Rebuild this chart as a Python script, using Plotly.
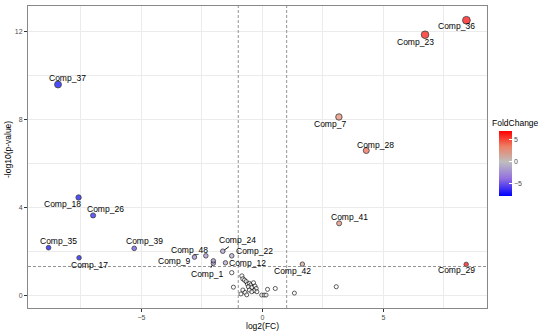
import plotly.graph_objects as go

# ---- data ----
sig_names = ["Comp_37", "Comp_36", "Comp_23", "Comp_7", "Comp_28", "Comp_41", "Comp_42",
             "Comp_29", "Comp_18", "Comp_26", "Comp_35", "Comp_17", "Comp_39", "Comp_48",
             "Comp_9", "Comp_24", "Comp_22", "Comp_12", "Comp_1", ""]
sig_log2fc = [-8.45, 8.43, 6.72, 3.16, 4.29, 3.17, 1.65,
              8.42, -7.60, -7.00, -8.84, -7.58, -5.30, -2.34,
              -2.81, -1.64, -1.27, -1.53, -2.03, -2.03]
sig_logp = [9.60, 12.53, 11.87, 8.12, 6.59, 3.27, 1.41,
            1.40, 4.45, 3.63, 2.16, 1.70, 2.13, 1.79,
            1.73, 2.00, 1.79, 1.47, 1.45, 1.56]

ns_log2fc = [-1.27, -1.20, -0.85, -0.81, -0.74, -0.67, -0.62, -0.54, -0.48, -0.58, -0.44,
             -0.37, -0.31, -0.26, -0.34, -0.23, -0.81, -0.72, -0.89, -0.65, -0.54, -0.44,
             -0.03, 0.07, 0.15, 0.21, 0.53, 1.32, 3.05]
ns_logp = [1.02, 0.36, 0.87, 0.74, 0.68, 0.61, 0.50, 0.53, 0.46, 0.38, 0.35,
           0.56, 0.41, 0.30, 0.20, 0.15, 0.23, 0.12, 0.05, 0.01, 0.23, 0.15,
           0.00, 0.00, 0.00, 0.26, 0.30, 0.09, 0.38]

fc_cut = 1.0
p_cut = 1.301
x_ticks = [-5, 0, 5]
y_ticks = [0, 4, 8, 12]
cb_ticks = [-5, 0, 5]
cmin, cmax = -7.8, 7.05

# ---- style ----
m = (0 - cmin) / (cmax - cmin)
colorscale = [[0, "#0000FF"], [m / 2, "#926EE1"], [m, "#BEBEBE"],
              [m + (1 - m) / 2, "#ED7F64"], [1, "#FF0000"]]

def msize(v):
    return 4 + 0.3 * v

label_offsets = {
    "Comp_37": (9, 7), "Comp_36": (-10, -6), "Comp_23": (-10, -7), "Comp_7": (-9, -7),
    "Comp_28": (9, 6), "Comp_41": (10, 6), "Comp_42": (-10, -7), "Comp_29": (-10, -6),
    "Comp_18": (-16, -7), "Comp_26": (12, 6), "Comp_35": (10, 7), "Comp_17": (10, -7),
    "Comp_39": (10, 7), "Comp_48": (-16, 6), "Comp_9": (-20, -4), "Comp_22": (23, 5),
    "Comp_12": (22, 0),
}
arrow_offsets = {"Comp_24": (15, -11), "Comp_1": (-6, 11)}

FONT = "Liberation Sans, Arial, sans-serif"
W, H = 550, 334
ML, MR, MT, MB = 28, 63, 6, 26
PW, PH = W - ML - MR, H - MT - MB

fig = go.Figure()

fig.add_trace(go.Scatter(
    x=ns_log2fc, y=ns_logp, mode="markers", showlegend=False, hoverinfo="skip",
    marker=dict(size=[msize(v) for v in ns_logp], color="white",
                line=dict(color="black", width=0.9)),
))

fig.add_trace(go.Scatter(
    x=sig_log2fc, y=sig_logp, mode="markers", showlegend=False, text=sig_names,
    marker=dict(size=[msize(v) for v in sig_logp], color=sig_log2fc,
                colorscale=colorscale, cmin=cmin, cmax=cmax,
                line=dict(color="black", width=0.9),
                colorbar=dict(
                    x=(499.3 - ML) / PW, xref="paper", xanchor="left",
                    y=(H - MB - 163.4) / PH, yanchor="middle",
                    thickness=13, thicknessmode="pixels", len=65, lenmode="pixels",
                    xpad=0, ypad=0, outlinewidth=0,
                    tickvals=cb_ticks, ticks="inside", tickcolor="white", ticklen=3,
                    tickfont=dict(size=7, color="#4d4d4d", family=FONT),
                )),
))

shapes = []
for xv in (-fc_cut, fc_cut):
    shapes.append(dict(type="line", xref="x", yref="y domain", x0=xv, x1=xv, y0=0, y1=1,
                       line=dict(color="#666666", width=0.7, dash="3px,2px")))
shapes.append(dict(type="line", xref="x domain", yref="y", x0=0, x1=1, y0=p_cut, y1=p_cut,
                   line=dict(color="#666666", width=0.7, dash="3px,2px")))

annotations = []
for name, xv, yv in zip(sig_names, sig_log2fc, sig_logp):
    if name in label_offsets:
        dx, dy = label_offsets[name]
        annotations.append(dict(x=xv, y=yv, text=name, showarrow=False, xshift=dx, yshift=dy,
                                font=dict(size=8.5, color="black", family=FONT)))
    elif name in arrow_offsets:
        ax, ay = arrow_offsets[name]
        annotations.append(dict(x=xv, y=yv, text=name, showarrow=True, ax=ax, ay=ay,
                                arrowhead=0, arrowwidth=0.9, arrowcolor="black", standoff=2,
                                font=dict(size=8.5, color="black", family=FONT)))

# colorbar title
annotations.append(dict(xref="paper", yref="paper", x=(490 - ML) / PW, y=(H - MB - 122.7) / PH,
                        xanchor="left", yanchor="middle", text="FoldChange", showarrow=False,
                        font=dict(size=8.5, color="black", family=FONT)))
# axis titles
annotations.append(dict(xref="paper", yref="paper", x=(262 - ML) / PW, y=(H - MB - 325.5) / PH,
                        xanchor="center", yanchor="middle", text="log2(FC)", showarrow=False,
                        font=dict(size=8.5, color="black", family=FONT)))
annotations.append(dict(xref="paper", yref="paper", x=(8 - ML) / PW, y=(H - MB - 150) / PH,
                        xanchor="center", yanchor="middle", text="-log10(p-value)", showarrow=False,
                        textangle=-90, font=dict(size=8.5, color="black", family=FONT)))

fig.update_layout(
    width=W, height=H,
    margin=dict(l=ML, r=MR, t=MT, b=MB),
    paper_bgcolor="white", plot_bgcolor="white",
    font=dict(family=FONT),
    shapes=shapes, annotations=annotations,
    xaxis=dict(range=[-9.69, 9.28], tickvals=x_ticks, ticks="outside", ticklen=3,
               tickcolor="#333333", tickfont=dict(size=7, color="#4d4d4d"),
               showgrid=True, gridcolor="#EBEBEB", gridwidth=1, zeroline=False,
               minor=dict(tickvals=[-7.5, -2.5, 2.5, 7.5], showgrid=True,
                          gridcolor="#EBEBEB", gridwidth=0.6),
               showline=True, linecolor="#888888", linewidth=1, mirror=True,
               automargin=False),
    yaxis=dict(range=[-0.59, 13.18], tickvals=y_ticks, ticks="outside", ticklen=3,
               tickcolor="#333333", tickfont=dict(size=7, color="#4d4d4d"),
               showgrid=True, gridcolor="#EBEBEB", gridwidth=1, zeroline=False,
               minor=dict(tickvals=[2, 6, 10], showgrid=True,
                          gridcolor="#EBEBEB", gridwidth=0.6),
               showline=True, linecolor="#888888", linewidth=1, mirror=True,
               automargin=False),
)

fig.write_html("out.html", config={"displayModeBar": False},
               post_script="document.body.style.margin='0';document.body.style.overflow='hidden';")
